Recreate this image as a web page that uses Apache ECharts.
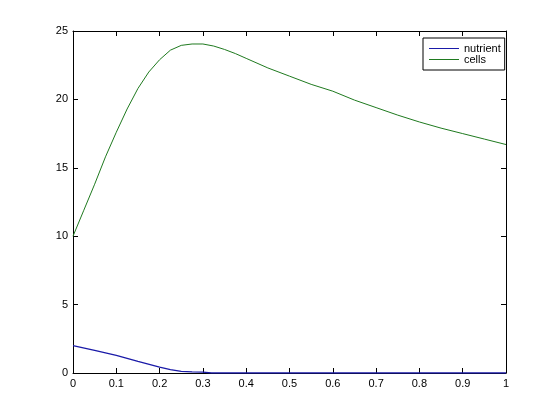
<!DOCTYPE html>
<html>
<head>
<meta charset="utf-8">
<script src="https://cdn.jsdelivr.net/npm/echarts@6/dist/echarts.min.js"></script>
<style>html,body{margin:0;padding:0;background:#fff;}#c{width:559px;height:419px;}</style>
</head>
<body>
<div id="c"></div>
<script>
var cellsX = [0, 0.025, 0.05, 0.075, 0.1, 0.125, 0.15, 0.175, 0.2, 0.225, 0.25, 0.275, 0.3, 0.325, 0.35, 0.375, 0.4, 0.45, 0.5, 0.55, 0.6, 0.65, 0.7, 0.75, 0.8, 0.85, 0.9, 0.95, 1.0];
var cellsY = [10, 11.9, 13.8, 15.8, 17.6, 19.3, 20.8, 22.0, 22.9, 23.6, 23.95, 24.05, 24.05, 23.9, 23.65, 23.35, 23.0, 22.3, 21.7, 21.1, 20.6, 19.95, 19.4, 18.85, 18.35, 17.9, 17.5, 17.1, 16.7];
var nutrientX = [0, 0.05, 0.1, 0.15, 0.2, 0.225, 0.25, 0.275, 0.3, 0.32, 0.4, 0.5, 0.6, 0.7, 0.8, 0.9, 1.0];
var nutrientY = [2.0, 1.65, 1.28, 0.85, 0.43, 0.25, 0.12, 0.08, 0.06, 0.0, 0, 0, 0, 0, 0, 0, 0];
var xTicks = [0, 0.1, 0.2, 0.3, 0.4, 0.5, 0.6, 0.7, 0.8, 0.9, 1];
var yTicks = [0, 5, 10, 15, 20, 25];

function pairs(xs, ys) { return xs.map(function (x, i) { return [x, ys[i]]; }); }

var font = 'Liberation Sans, Arial, sans-serif';
var blue = '#1a1aa8';
var green = '#1f7a1f';
var axisCommon = {
  axisLine: { show: true, onZero: false, lineStyle: { color: '#000', width: 1 } },
  axisTick: { show: true, inside: true, length: 5, lineStyle: { color: '#000' } },
  splitLine: { show: false }
};

var chart = echarts.init(document.getElementById('c'), null, { renderer: 'canvas' });
chart.setOption({
  animation: false,
  backgroundColor: '#fff',
  grid: { left: 73, right: 53, top: 31, bottom: 46, containLabel: false },
  legend: {
    left: 423, top: 38, orient: 'vertical',
    data: ['nutrient', 'cells'],
    borderColor: '#000', borderWidth: 1, borderRadius: 0,
    padding: [5, 4, 5, 6], itemGap: 0, itemWidth: 30, itemHeight: 1,
    icon: 'rect',
    textStyle: { fontFamily: font, fontSize: 11, lineHeight: 10, color: '#000' },
    itemTextGap: 2,
    backgroundColor: '#fff'
  },
  xAxis: [
    Object.assign({
      type: 'value', min: 0, max: 1, interval: 0.1, position: 'bottom',
      axisLabel: { color: '#000', fontFamily: font, fontSize: 11, margin: 5,
        formatter: function (v) { var r = Math.round(v * 10) / 10; return xTicks.indexOf(r) >= 0 ? String(r) : ''; } }
    }, axisCommon),
    Object.assign({
      type: 'value', min: 0, max: 1, interval: 0.1, position: 'top',
      axisLabel: { show: false }
    }, axisCommon)
  ],
  yAxis: [
    Object.assign({
      type: 'value', min: 0, max: 25, interval: 5, position: 'left',
      axisLabel: { color: '#000', fontFamily: font, fontSize: 11, margin: 5,
        formatter: function (v) { return yTicks.indexOf(v) >= 0 ? String(v) : ''; } }
    }, axisCommon),
    Object.assign({
      type: 'value', min: 0, max: 25, interval: 5, position: 'right',
      axisLabel: { show: false }
    }, axisCommon)
  ],
  series: [
    { name: 'nutrient', type: 'line', xAxisIndex: 0, yAxisIndex: 0, showSymbol: false, symbol: 'none',
      data: pairs(nutrientX, nutrientY), lineStyle: { color: blue, width: 1.3 }, itemStyle: { color: blue }, z: 5 },
    { name: 'cells', type: 'line', xAxisIndex: 0, yAxisIndex: 0, showSymbol: false, symbol: 'none',
      data: pairs(cellsX, cellsY), lineStyle: { color: green, width: 1 }, itemStyle: { color: green }, z: 5 }
  ]
});
</script>
</body>
</html>
